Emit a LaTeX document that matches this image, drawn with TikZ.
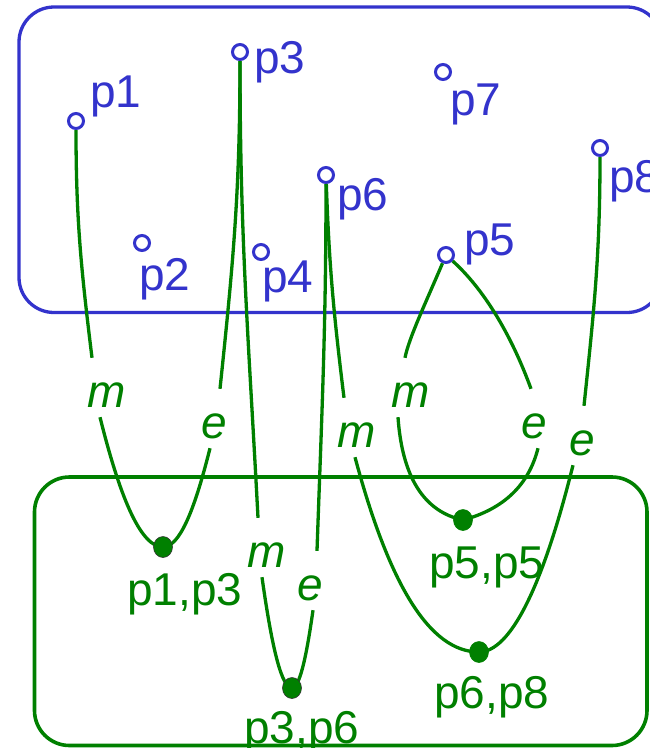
\documentclass[tikz,border=0pt]{standalone}
\usepackage{fontspec}
\setmainfont{Liberation Sans}
\usetikzlibrary{shapes.geometric}
\definecolor{pblue}{RGB}{51,51,204}
\definecolor{dgreen}{RGB}{0,128,0}
\begin{document}
\begin{tikzpicture}[x=1pt,y=-1pt,
  pt/.style={circle,draw=pblue,line width=3pt,minimum size=15pt,inner sep=0pt},
  ptlab/.style={anchor=base west,inner sep=0pt,text=pblue,font=\fontsize{46}{50}\selectfont},
  dot/.style={ellipse,fill=dgreen,draw=dgreen,line width=0.6pt,minimum width=19pt,minimum height=21pt,inner sep=0pt},
  dotk/.style={dot,draw=black!80},
  dlab/.style={anchor=base west,inner sep=0pt,text=dgreen,font=\fontsize{46}{50}\selectfont},
  el/.style={anchor=base,text=dgreen,font=\fontsize{46}{50}\selectfont\itshape,text height=49pt,text depth=10pt,inner ysep=0pt,inner xsep=2pt},
  edge/.style={draw=dgreen,line width=3.3pt},
  bbox/.style={rounded corners=35pt,line width=3.3pt},
]
\useasboundingbox (0,0) rectangle (650,748);
% boxes
\draw[bbox,draw=pblue] (19,7) rectangle (662,312.5);
\draw[bbox,draw=dgreen,line width=3.6pt] (34.5,477) rectangle (647,745.5);
% points
\node[pt] (p1) at (76,121) {};
\node[pt] (p2) at (142,243) {};
\node[pt] (p3) at (240,52) {};
\node[pt] (p4) at (261,252) {};
\node[pt] (p5) at (446,255) {};
\node[pt] (p6) at (326,175) {};
\node[pt] (p7) at (443,72) {};
\node[pt] (p8) at (600,148) {};
\node[ptlab] (lp1) at (90,107) {p1};
\node[ptlab] (lp2) at (139,290) {p2};
\node[ptlab] (lp3) at (254,73) {p3};
\node[ptlab] (lp4) at (262,292) {p4};
\node[ptlab] (lp5) at (464,255) {p5};
\node[ptlab] (lp6) at (337,210) {p6};
\node[ptlab] (lp7) at (450,115) {p7};
\node[ptlab] (lp8) at (609,192) {p8};
% pair positions
\coordinate (c13) at (163,547);
\coordinate (c36) at (292,688);
\coordinate (c55) at (463,520);
\coordinate (c68) at (479,652);
\node[dlab] (ld13) at (127,605) {p1,p3};
\node[dlab] (ld36) at (244,743) {p3,p6};
\node[dlab] (ld55) at (429,578) {p5,p5};
\node[dlab] (ld68) at (434,708) {p6,p8};
% edge labels
\node[el] (m1) at (107,407) {m};
\node[el] (e1) at (214,438) {e};
\node[el] (m2) at (267,567) {m};
\node[el] (e2) at (310,600) {e};
\node[el] (m3) at (357,447) {m};
\node[el] (m4) at (411,407) {m};
\node[el] (e3) at (534,438) {e};
\node[el] (e4) at (582,455) {e};
% edges (angles in screen convention: up = 90)
\draw[edge] (p1) to[out=-90,in=97] ([xshift=-15pt]m1.north);
\draw[edge] ([xshift=-7pt]m1.south) to[out=-76,in=180,out distance=89pt,in distance=21pt] (c13);
\draw[edge] (c13) to[out=0,in=-104,out distance=16pt,in distance=67pt] ([xshift=-4pt]e1.south);
\draw[edge] ([xshift=6pt]e1.north) to[out=84,in=-90] (p3);

\draw[edge] (p3) to[out=-90,in=93] ([xshift=-9pt]m2.north);
\draw[edge] ([xshift=-5pt]m2.south) to[out=-82,in=180,out distance=75pt,in distance=10pt] (c36);
\draw[edge] (c36) to[out=0,in=-98,out distance=7pt,in distance=52pt] ([xshift=3pt]e2.south);
\draw[edge] ([xshift=7pt]e2.north) to[out=88,in=-90] (p6);

\draw[edge] (p6) to[out=-88,in=97] ([xshift=-13pt]m3.north);
\draw[edge] ([xshift=-2pt]m3.south) to[out=-75,in=180,out distance=130pt,in distance=50pt] (c68);
\draw[edge] (c68) to[out=0,in=-104,out distance=31pt,in distance=127pt] ([xshift=-9pt]e4.south);
\draw[edge] ([xshift=2pt]e4.north) to[out=84,in=-90] (p8);

\draw[edge] (p5) to[out=-113,in=79,out distance=45pt,in distance=20pt] ([xshift=-6pt]m4.north);
\draw[edge] ([xshift=-13pt]m4.south) to[out=-86,in=168,out distance=60pt,in distance=40pt] (c55);
\draw[edge] (c55) to[out=15,in=-104,out distance=43pt,in distance=37pt] ([xshift=4pt]e3.south);
\draw[edge] ([xshift=-3pt]e3.north) to[out=110,in=-42,out distance=60pt,in distance=40pt] (p5);
% dots on top
\node[dotk] (d13) at (c13) {};
\node[dotk] (d36) at (c36) {};
\node[dot] (d55) at (c55) {};
\node[dot] (d68) at (c68) {};
\end{tikzpicture}
\end{document}
